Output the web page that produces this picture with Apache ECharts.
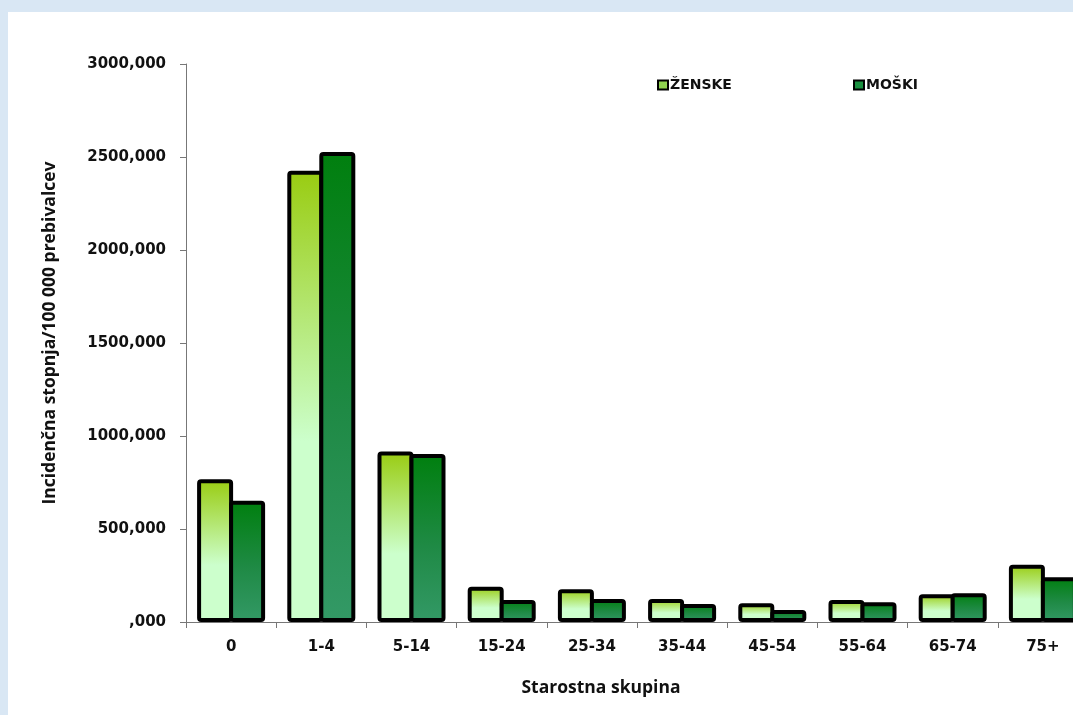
<!DOCTYPE html>
<html>
<head>
<meta charset="utf-8">
<style>
  html, body { margin: 0; padding: 0; background: #d9e7f4; overflow: hidden; }
  /* the plot runs past the right edge of the window, so the canvas is wider than the view */
  #chart { width: 1100px; height: 715px; }
</style>
<script src="https://cdn.jsdelivr.net/npm/echarts@6/dist/echarts.min.js"></script>
</head>
<body>
<div id="chart"></div>
<script>
// Age groups and incidence rate per 100 000 inhabitants
const ageGroups = ['0', '1-4', '5-14', '15-24', '25-34', '35-44', '45-54', '55-64', '65-74', '75+'];
const women = [767, 2426, 916, 190, 176, 124, 101, 118, 149, 308];
const men = [652, 2527, 903, 118, 124, 97, 65, 106, 154, 240];
const yTicks = [0, 500, 1000, 1500, 2000, 2500, 3000];

const chart = echarts.init(document.getElementById('chart'), null, { renderer: 'canvas' });

const tickFont = { fontFamily: 'DejaVu Sans', fontWeight: 'bold', color: '#111' };
const titleFont = "'Liberation Sans Narrow', 'Open Sans', sans-serif";

const womenFill = new echarts.graphic.LinearGradient(0, 0, 0, 1, [
  { offset: 0, color: '#99cc11' },
  { offset: 0.6, color: '#ccffcc' },
  { offset: 1, color: '#ccffcc' }
]);
const menFill = new echarts.graphic.LinearGradient(0, 0, 0, 1, [
  { offset: 0, color: '#007f0e' },
  { offset: 0.55, color: '#1f8a45' },
  { offset: 1, color: '#339966' }
]);

// bars share their 4px outline: the second bar overlaps the first by the border width
const barW = 36;
const overlap = -(4 / barW * 100).toFixed(1) + '%';

const legendText = { fontFamily: 'DejaVu Sans', fontWeight: 'bold', fontSize: 14, color: '#111', padding: [0, 0, 0, -3] };

chart.setOption({
  animation: false,
  backgroundColor: 'transparent',
  graphic: [
    { type: 'rect', z: -10, shape: { x: 8, y: 12, width: 1092, height: 703 }, style: { fill: '#ffffff' } },
    {
      type: 'text', x: 50, y: 333, rotation: Math.PI / 2,
      style: {
        text: 'Incidenčna stopnja/100 000 prebivalcev',
        font: 'bold 17.5px ' + titleFont, fill: '#111',
        align: 'center', verticalAlign: 'middle'
      }
    },
    {
      type: 'text', x: 601, y: 688,
      style: {
        text: 'Starostna skupina',
        font: 'bold 17.5px ' + titleFont, fill: '#111',
        align: 'center', verticalAlign: 'middle'
      }
    }
  ],
  legend: [
    {
      left: 657, top: 78, padding: 0, itemWidth: 10, itemHeight: 9, itemGap: 4,
      textStyle: legendText,
      data: [{ name: 'ŽENSKE', icon: 'rect', itemStyle: { color: '#8fd14f', borderColor: '#000', borderWidth: 2 } }]
    },
    {
      left: 853, top: 78, padding: 0, itemWidth: 10, itemHeight: 9, itemGap: 4,
      textStyle: legendText,
      data: [{ name: 'MOŠKI', icon: 'rect', itemStyle: { color: '#1a9040', borderColor: '#000', borderWidth: 2 } }]
    }
  ],
  grid: { left: 186, top: 64, width: 902, height: 558, containLabel: false },
  xAxis: {
    type: 'category',
    data: ageGroups,
    axisLine: { lineStyle: { color: '#777', width: 1 } },
    axisTick: { show: true, length: 6, lineStyle: { color: '#777' } },
    axisLabel: Object.assign({ fontSize: 15, margin: 18 }, tickFont)
  },
  yAxis: {
    type: 'value',
    min: 0, max: 3000, interval: 500,
    splitLine: { show: false },
    axisLine: { show: true, lineStyle: { color: '#777', width: 1 } },
    axisTick: { show: true, length: 6, lineStyle: { color: '#777' } },
    axisLabel: Object.assign({
      fontSize: 15, margin: 20,
      formatter: v => (yTicks.includes(v) ? (v === 0 ? '' : String(v)) + ',000' : '')
    }, tickFont)
  },
  series: [
    {
      name: 'ŽENSKE', type: 'bar', data: women, barWidth: barW, barGap: overlap,
      itemStyle: { color: womenFill, borderColor: '#000', borderWidth: 4, borderRadius: 2 }
    },
    {
      name: 'MOŠKI', type: 'bar', data: men, barWidth: barW, barGap: overlap,
      itemStyle: { color: menFill, borderColor: '#000', borderWidth: 4, borderRadius: 2 }
    }
  ]
});
</script>
</body>
</html>
